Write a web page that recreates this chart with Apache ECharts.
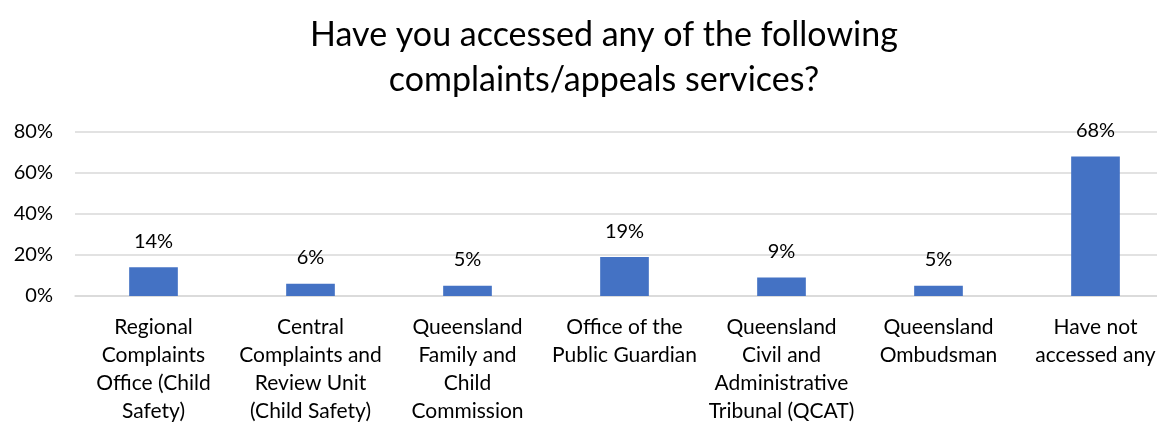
<!DOCTYPE html>
<html><head><meta charset="utf-8">
<script src="https://cdn.jsdelivr.net/npm/echarts@6/dist/echarts.min.js"></script>
<style>html,body{margin:0;padding:0;background:#fff}#c{width:1157px;height:425px}</style>
</head><body><div id="c"></div>
<script>
const titleText = "Have you accessed any of the following\ncomplaints/appeals services?";
const categories = [
  "Regional\nComplaints\nOffice (Child\nSafety)",
  "Central\nComplaints and\nReview Unit\n(Child Safety)",
  "Queensland\nFamily and\nChild\nCommission",
  "Office of the\nPublic Guardian",
  "Queensland\nCivil and\nAdministrative\nTribunal (QCAT)",
  "Queensland\nOmbudsman",
  "Have not\naccessed any"
];
const values = [14, 6, 5, 19, 9, 5, 68];
const yTicks = { min: 0, max: 80, interval: 20 };

const FONT = "Lato";
const chart = echarts.init(document.getElementById('c'), null, {renderer: 'canvas'});
chart.setOption({
  animation: false,
  title: {
    text: titleText, left: 599, top: 8, textAlign: 'center',
    textStyle: { fontFamily: FONT, fontSize: 34, fontWeight: 'normal', color: '#000', lineHeight: 45 }
  },
  grid: { left: 75, width: 1099, top: 132, height: 164, containLabel: false, outerBoundsMode: 'none' },
  xAxis: {
    type: 'category', data: categories,
    axisLine: { show: true, lineStyle: { color: '#d9d9d9', width: 1.5 } },
    axisTick: { show: false },
    axisLabel: { interval: 0, margin: 17, fontFamily: FONT, fontSize: 21, color: '#000', lineHeight: 28, align: 'center' }
  },
  yAxis: {
    type: 'value', min: yTicks.min, max: yTicks.max, interval: yTicks.interval,
    axisLine: { show: false }, axisTick: { show: false },
    splitLine: { lineStyle: { color: '#d9d9d9', width: 1.5 } },
    axisLabel: { margin: 22, fontFamily: FONT, fontSize: 20, color: '#000', formatter: v => v + '%' }
  },
  series: [{
    type: 'bar', data: values, barWidth: '31%',
    itemStyle: { color: '#4472C4' },
    label: { show: true, position: 'top', distance: 16, fontFamily: FONT, fontSize: 20, color: '#000', formatter: p => p.value + '%' }
  }]
});
</script></body></html>
